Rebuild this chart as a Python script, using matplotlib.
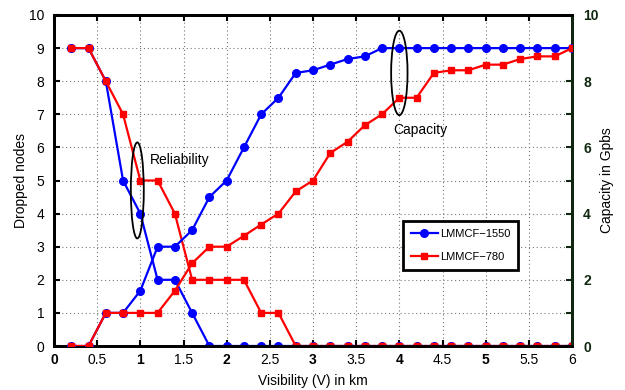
import matplotlib
matplotlib.use("Agg")
import matplotlib.pyplot as plt
from matplotlib.patches import Ellipse
import numpy as np

plt.rcParams['font.family'] = ['Liberation Sans', 'DejaVu Sans']

visibility = [0.2, 0.4, 0.6, 0.8, 1.0, 1.2, 1.4, 1.6, 1.8, 2.0,
              2.2, 2.4, 2.6, 2.8, 3.0, 3.2, 3.4, 3.6, 3.8, 4.0,
              4.2, 4.4, 4.6, 4.8, 5.0, 5.2, 5.4, 5.6, 5.8, 6.0]
dropped_1550 = [9, 9, 8, 5, 4, 2, 2, 1, 0, 0,
                0, 0, 0, 0, 0, 0, 0, 0, 0, 0,
                0, 0, 0, 0, 0, 0, 0, 0, 0, 0]
dropped_780 = [9, 9, 8, 7, 5, 5, 4, 2, 2, 2,
               2, 1, 1, 0, 0, 0, 0, 0, 0, 0,
               0, 0, 0, 0, 0, 0, 0, 0, 0, 0]
capacity_1550 = [0, 0, 1, 1, 1.67, 3, 3, 3.5, 4.5, 5,
                 6, 7, 7.5, 8.25, 8.33, 8.5, 8.67, 8.75, 9, 9,
                 9, 9, 9, 9, 9, 9, 9, 9, 9, 9]
capacity_780 = [0, 0, 1, 1, 1, 1, 1.67, 2.5, 3, 3,
                3.33, 3.67, 4, 4.67, 5, 5.83, 6.17, 6.67, 7, 7.5,
                7.5, 8.25, 8.33, 8.33, 8.5, 8.5, 8.67, 8.75, 8.75, 9]

x_ticks = [0, 0.5, 1, 1.5, 2, 2.5, 3, 3.5, 4, 4.5, 5, 5.5, 6]
x_tick_labels = ['0', '0.5', '1', '1.5', '2', '2.5', '3', '3.5', '4', '4.5', '5', '5.5', '6']
left_ticks = list(range(0, 11))
right_ticks = [0, 2, 4, 6, 8, 10]

fig = plt.figure(figsize=(6.25, 3.9), dpi=100)
ax = fig.add_axes([54/625, 1-346/390, 518/625, 331/390])
ax2 = ax.twinx()

blue = (0, 0, 1)
red = (1, 0, 0)
dark_green = '#102810'
lw = 1.6
ms_c = 5.5
ms_s = 5.0

l1, = ax.plot(visibility, dropped_1550, '-o', color=blue, lw=lw, ms=ms_c, zorder=3)
ax.plot(visibility, dropped_780, '-s', color=red, lw=lw, ms=ms_s, zorder=4)
ax2.plot(visibility, capacity_1550, '-o', color=blue, lw=lw, ms=ms_c, zorder=3)
l2, = ax2.plot(visibility, capacity_780, '-s', color=red, lw=lw, ms=ms_s, zorder=4)

for a in (ax, ax2):
    a.set_xlim(0, 6)
    a.set_ylim(0, 10)
    for s in a.spines.values():
        s.set_linewidth(2)
        s.set_color('black')
ax2.spines['right'].set_color(dark_green)

ax.set_xticks(x_ticks)
ax.set_xticklabels(x_tick_labels)
for lab, t in zip(ax.get_xticklabels(), x_ticks):
    if float(t).is_integer() and t < 6:
        lab.set_fontweight('bold')
ax.set_yticks(left_ticks)
ax2.set_yticks(left_ticks)
ax2.set_yticklabels([str(t) if t in right_ticks else '' for t in left_ticks])
for lab in ax2.get_yticklabels():
    lab.set_fontweight('bold')
    lab.set_color(dark_green)

ax.tick_params(axis='x', direction='in', length=4, width=1.5, labelsize=10, top=True, pad=5)
ax.tick_params(axis='y', direction='in', length=4, width=1.5, labelsize=10, right=False, pad=7)
ax2.tick_params(direction='in', length=4, width=1.5, labelsize=10, pad=8, color=dark_green)

ax.grid(True, linestyle=(0, (1, 2.5)), color='#777777', linewidth=0.8)
ax.set_axisbelow(True)

ax.set_xlabel('Visibility (V) in km', fontsize=10, labelpad=5)
ax.set_ylabel('Dropped nodes', fontsize=10, labelpad=1)
ax2.set_ylabel('Capacity in Gpbs', fontsize=10, labelpad=1)

ax2.add_patch(Ellipse((0.965, 4.7), 0.15, 2.9, fill=False, ec='black', lw=1.3, zorder=5))
ax2.text(1.11, 5.62, 'Reliability', fontsize=10, va='center', ha='left')
ax2.add_patch(Ellipse((4.0, 8.25), 0.19, 2.55, fill=False, ec='black', lw=1.3, zorder=5))
ax2.text(3.93, 6.52, 'Capacity', fontsize=10, va='center', ha='left')

leg = ax2.legend([l1, l2], ['LMMCF\u22121550', 'LMMCF\u2212780'],
                 loc='upper left', bbox_to_anchor=(0.674, 0.378),
                 fancybox=False, edgecolor='black', framealpha=1,
                 fontsize=8, handlelength=2.4, handletextpad=0.2,
                 borderpad=0.7, labelspacing=1.2, borderaxespad=0)
leg.get_frame().set_linewidth(2)

fig.savefig('out.png', dpi=100)
